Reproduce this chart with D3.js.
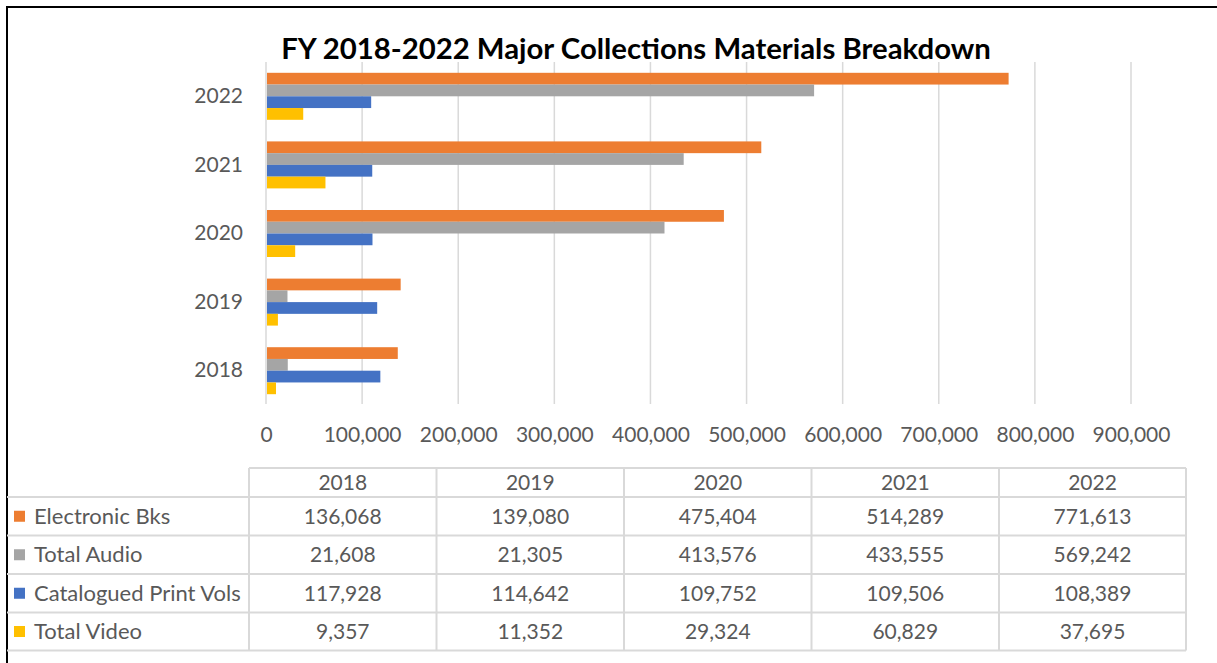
<!DOCTYPE html>
<html><head><meta charset="utf-8">
<script src="https://cdn.jsdelivr.net/npm/d3@7"></script>
<style>
html,body{margin:0;padding:0;background:#fff;}
svg text{font-family:Lato,"Open Sans",sans-serif;}
</style></head>
<body>
<svg id="chart" width="1217" height="663"></svg>
<script>
const years = ["2018","2019","2020","2021","2022"];
const seriesNames = ["Electronic Bks","Total Audio","Catalogued Print Vols","Total Video"];
const electronicBks = [136068,139080,475404,514289,771613];
const totalAudio = [21608,21305,413576,433555,569242];
const printVols = [117928,114642,109752,109506,108389];
const totalVideo = [9357,11352,29324,60829,37695];
const seriesColors = ["#ED7D31","#A5A5A5","#4472C4","#FFC000"];
const xTicks = [0,100000,200000,300000,400000,500000,600000,700000,800000,900000];
const titleText = "FY 2018-2022 Major Collections Materials Breakdown";

const seriesValues = [electronicBks,totalAudio,printVols,totalVideo];
const svg = d3.select("#chart");
const textColor = "#595959";
const gridColor = "#d9d9d9";
const numSize = 21, labelSize = 22;

// frame
svg.append("line").attr("x1",6).attr("x2",1217).attr("y1",7).attr("y2",7).attr("stroke","#000").attr("stroke-width",2);
svg.append("line").attr("x1",7).attr("x2",7).attr("y1",6).attr("y2",663).attr("stroke","#000").attr("stroke-width",2);

const plot = {left:266, right:1131, top:62, bottom:404};
const x = d3.scaleLinear().domain([0,900000]).range([plot.left, plot.right]);
const yOuter = d3.scaleBand().domain(years.slice().reverse()).range([plot.top, 405]).paddingInner(0.315).paddingOuter(0.1575);
const yInner = d3.scaleBand().domain(seriesNames).range([0, yOuter.bandwidth()]);

// gridlines
svg.append("g").selectAll("line").data(xTicks).join("line")
  .attr("x1",d=>x(d)).attr("x2",d=>x(d)).attr("y1",plot.top).attr("y2",plot.bottom)
  .attr("stroke",gridColor).attr("stroke-width",1.5);

// x axis labels
const xAxis = d3.axisBottom(x).tickValues(xTicks).tickSize(0).tickFormat(d3.format(","));
const gx = svg.append("g").attr("transform",`translate(0,${plot.bottom})`).call(xAxis);
gx.select(".domain").remove();
gx.selectAll("text").attr("y",0).attr("dy","38px").attr("font-size",numSize).attr("fill",textColor).attr("font-family","Lato");

// y axis labels
const yAxis = d3.axisLeft(yOuter).tickSize(0).tickPadding(0);
const gy = svg.append("g").attr("transform",`translate(243,0)`).call(yAxis);
gy.select(".domain").remove();
gy.selectAll("text").attr("font-size",numSize).attr("fill",textColor).attr("font-family","Lato");

// bars
const barData = [];
years.forEach((yr,i)=>seriesNames.forEach((s,j)=>barData.push({year:yr,series:s,value:seriesValues[j][i],color:seriesColors[j]})));
svg.append("g").selectAll("rect").data(barData).join("rect")
  .attr("x",x(0)+1)
  .attr("y",d=>yOuter(d.year)+yInner(d.series))
  .attr("width",d=>x(d.value)-x(0))
  .attr("height",yInner.bandwidth())
  .attr("fill",d=>d.color);

// title
const title = svg.append("text").attr("x",636).attr("y",59).attr("text-anchor","middle")
  .attr("font-weight","bold").attr("font-size",28).attr("fill","#000").text(titleText);
const tw = title.node().getComputedTextLength();
title.attr("font-size",28*710/tw);

// data table
const colEdges = [249,436.5,624,811.5,999,1186];
const rowEdges = [468,497,535.5,574,612.5,650.5];
const tbl = svg.append("g");
tbl.append("line").attr("x1",colEdges[0]).attr("x2",colEdges[5]).attr("y1",rowEdges[0]).attr("y2",rowEdges[0]).attr("stroke",gridColor).attr("stroke-width",2);
for(let r=1;r<rowEdges.length;r++){
  tbl.append("line").attr("x1",7).attr("x2",colEdges[5]).attr("y1",rowEdges[r]).attr("y2",rowEdges[r]).attr("stroke",gridColor).attr("stroke-width",2);
}
colEdges.forEach(cx=>{
  tbl.append("line").attr("x1",cx).attr("x2",cx).attr("y1",rowEdges[0]).attr("y2",rowEdges[5]).attr("stroke",gridColor).attr("stroke-width",2);
});
years.forEach((yr,i)=>{
  tbl.append("text").attr("x",(colEdges[i]+colEdges[i+1])/2).attr("y",(rowEdges[0]+rowEdges[1])/2)
    .attr("dy","0.35em").attr("text-anchor","middle").attr("font-size",numSize).attr("fill",textColor).text(yr);
});
const fmt = d3.format(",");
seriesNames.forEach((s,j)=>{
  const cy = (rowEdges[j+1]+rowEdges[j+2])/2;
  tbl.append("rect").attr("x",14).attr("y",cy-5.5).attr("width",11).attr("height",11).attr("fill",seriesColors[j]);
  tbl.append("text").attr("x",34).attr("y",cy).attr("dy","0.35em").attr("font-size",labelSize).attr("fill",textColor).text(s);
  seriesValues[j].forEach((v,i)=>{
    tbl.append("text").attr("x",(colEdges[i]+colEdges[i+1])/2).attr("y",cy).attr("dy","0.35em")
      .attr("text-anchor","middle").attr("font-size",numSize).attr("fill",textColor).text(fmt(v));
  });
});
</script>
</body></html>
